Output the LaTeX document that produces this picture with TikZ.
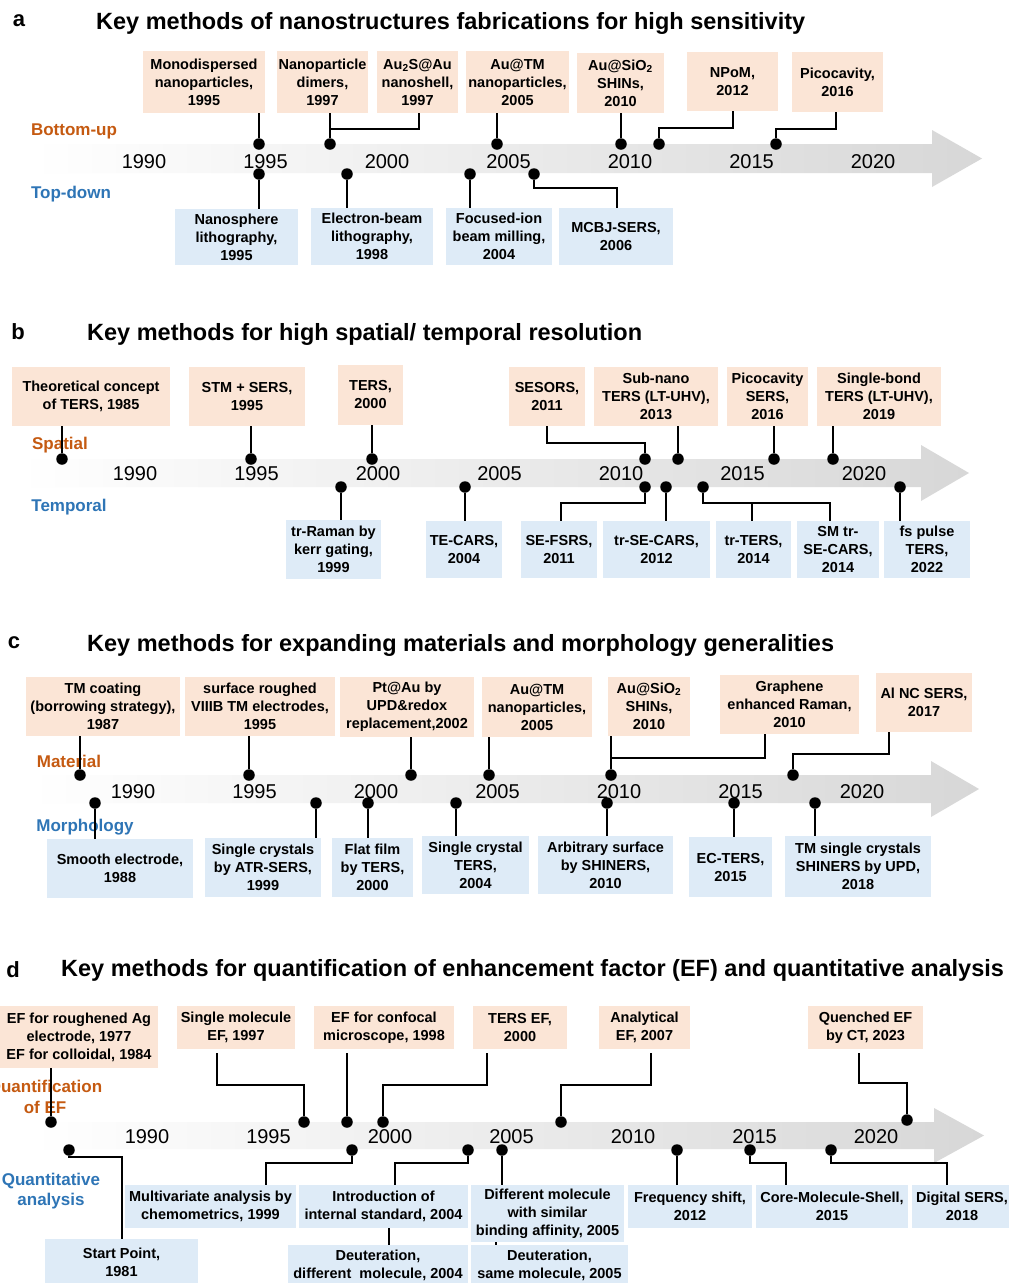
\documentclass[tikz,border=0pt]{standalone}
\usepackage{fontspec}
\setmainfont{Liberation Sans}
\definecolor{boxorange}{RGB}{251,229,214}
\definecolor{boxblue}{RGB}{222,235,247}
\definecolor{txtorange}{RGB}{197,90,17}
\definecolor{txtblue}{RGB}{46,117,182}
\definecolor{bandgray}{RGB}{215,215,215}
\newcommand\boxfont{\fontsize{14.5}{18}\selectfont\bfseries}
\newcommand\sidefont{\fontsize{17}{20.5}\selectfont\bfseries}
\newcommand\titlefont{\fontsize{23.5}{26}\selectfont\bfseries}
\newcommand\panelfont{\fontsize{22}{24}\selectfont\bfseries}
\newcommand\bx[7]{\node[#2,minimum width={#5-#3},minimum height={#6-#4}] (#1) at ({(#3+#5)/2},{(#4+#6)/2}) {#7};}
\newcommand\arrowband[5]{\shade[left color=white,right color=bandgray] ({#1},{#2}) -- ({#4},{#2}) -- ({#4},{#2-14}) -- ({#5},{(#2+#3)/2}) -- ({#4},{#3+14}) -- ({#4},{#3}) -- ({#1},{#3}) -- cycle;}
\newcommand\years[3]{\foreach \i/\yr in {0/1990,1/1995,2/2000,3/2005,4/2010,5/2015,6/2020} {\node[yearlab] (#3\i) at ({#1+\i*121.5},{#2}) {\yr};}}
\begin{document}
\begin{tikzpicture}[x=1pt,y=-1pt,
  obox/.style={fill=boxorange,inner sep=0pt,align=center,font=\boxfont},
  bbx/.style={fill=boxblue,inner sep=0pt,align=center,font=\boxfont},
  conn/.style={line width=2.7pt},
  dotst/.style={circle,fill=black,inner sep=0pt,minimum size=11.5pt},
  yearlab/.style={font=\fontsize{20}{24}\selectfont,inner sep=0pt},
  olab/.style={text=txtorange,font=\sidefont,align=center,inner sep=0pt},
  blab/.style={text=txtblue,font=\sidefont,align=center,inner sep=0pt},
  ttl/.style={anchor=west,font=\titlefont,inner sep=0pt},
  panel/.style={font=\panelfont,inner sep=0pt}]
\useasboundingbox (0,0) rectangle (1009,1283);
\fill[white] (0,0) rectangle (1009,1283);

% ================= panel a =================
\node[panel] (pla) at (19,21) {a};
\node[ttl] (titleA) at (96,23) {Key methods of nanostructures fabrications for high sensitivity};
\arrowband{32}{144}{173}{932}{982}
\years{144}{162}{ya}
\node[olab] (la1) at (74,131) {Bottom-up};
\node[blab] (la2) at (71,194) {Top-down};
\bx{ta1}{obox}{143}{51}{265}{113}{Monodispersed\\nanoparticles,\\1995}
\bx{ta2}{obox}{277}{51}{368}{113}{Nanoparticle\\dimers,\\1997}
\bx{ta3}{obox}{377}{51}{458}{113}{Au\textsubscript{2}S@Au\\nanoshell,\\1997}
\bx{ta4}{obox}{466}{51}{569}{113}{Au@TM\\nanoparticles,\\2005}
\bx{ta5}{obox}{577}{53}{664}{113}{Au@SiO\textsubscript{2}\\SHINs,\\2010}
\bx{ta6}{obox}{687}{52}{778}{111}{NPoM,\\2012}
\bx{ta7}{obox}{792}{52}{883}{112}{Picocavity,\\2016}
\bx{ba1}{bbx}{175}{209}{298}{265}{Nanosphere\\lithography,\\1995}
\bx{ba2}{bbx}{311}{208}{433}{265}{Electron-beam\\lithography,\\1998}
\bx{ba3}{bbx}{446}{208}{552}{265}{Focused-ion\\beam milling,\\2004}
\bx{ba4}{bbx}{559}{208}{673}{265}{MCBJ-SERS,\\2006}
\node[dotst] (pa1) at (259,144) {};
\node[dotst] (pa2) at (330,144) {};
\node[dotst] (pa4) at (497,144) {};
\node[dotst] (pa5) at (621,144) {};
\node[dotst] (pa6) at (659,144) {};
\node[dotst] (pa7) at (776,144) {};
\node[dotst] (qa1) at (259,174) {};
\node[dotst] (qa2) at (347,174) {};
\node[dotst] (qa3) at (470,174) {};
\node[dotst] (qa4) at (534,174) {};
\draw[conn] (ta1.south -| pa1) -- (pa1);
\draw[conn] (ta2.south -| pa2) -- (pa2);
\draw[conn] (419,0 |- ta3.south) -- (419,129) -| (pa2);
\draw[conn] (ta4.south -| pa4) -- (pa4);
\draw[conn] (ta5.south -| pa5) -- (pa5);
\draw[conn] (733,0 |- ta6.south) -- (733,128) -| (pa6);
\draw[conn] (836,0 |- ta7.south) -- (836,129) -| (pa7);
\draw[conn] (qa1) -- (qa1 |- ba1.north);
\draw[conn] (qa2) -- (qa2 |- ba2.north);
\draw[conn] (qa3) -- (qa3 |- ba3.north);
\draw[conn] (qa4) |- (617,188) -- (617,0 |- ba4.north);

% ================= panel b =================
\node[panel] (plb) at (18,332) {b};
\node[ttl] (titleB) at (87,334) {Key methods for high spatial/ temporal resolution};
\arrowband{19}{459}{487}{921}{969}
\years{135}{474}{yb}
\node[olab] (lb1) at (60,445) {Spatial};
\node[blab] (lb2) at (69,507) {Temporal};
\bx{tb1}{obox}{12}{367}{170}{426}{Theoretical concept\\of TERS, 1985}
\bx{tb2}{obox}{189}{367}{305}{426}{STM + SERS,\\1995}
\bx{tb3}{obox}{338}{365}{403}{425}{TERS,\\2000}
\bx{tb4}{obox}{509}{367}{585}{426}{SESORS,\\2011}
\bx{tb5}{obox}{594}{367}{718}{426}{Sub-nano\\TERS (LT-UHV),\\2013}
\bx{tb6}{obox}{727}{367}{808}{426}{Picocavity\\SERS,\\2016}
\bx{tb7}{obox}{817}{367}{941}{426}{Single-bond\\TERS (LT-UHV),\\2019}
\bx{bb1}{bbx}{286}{520}{381}{579}{tr-Raman by\\kerr gating,\\1999}
\bx{bb2}{bbx}{426}{521}{502}{578}{TE-CARS,\\2004}
\bx{bb3}{bbx}{521}{521}{597}{578}{SE-FSRS,\\2011}
\bx{bb4}{bbx}{603}{521}{710}{578}{tr-SE-CARS,\\2012}
\bx{bb5}{bbx}{716}{521}{791}{578}{tr-TERS,\\2014}
\bx{bb6}{bbx}{797}{521}{879}{578}{SM tr-\\SE-CARS,\\2014}
\bx{bb7}{bbx}{884}{521}{970}{578}{fs pulse\\TERS,\\2022}
\node[dotst] (pb1) at (62,459) {};
\node[dotst] (pb2) at (251,459) {};
\node[dotst] (pb3) at (372,459) {};
\node[dotst] (pb4) at (645,459) {};
\node[dotst] (pb5) at (678,459) {};
\node[dotst] (pb6) at (774,459) {};
\node[dotst] (pb7) at (833,459) {};
\node[dotst] (qb1) at (341,487) {};
\node[dotst] (qb2) at (465,487) {};
\node[dotst] (qb3) at (645,487) {};
\node[dotst] (qb4) at (666,487) {};
\node[dotst] (qb5) at (703,487) {};
\node[dotst] (qb6) at (900,487) {};
\draw[conn] (tb1.south -| pb1) -- (pb1);
\draw[conn] (tb2.south -| pb2) -- (pb2);
\draw[conn] (tb3.south -| pb3) -- (pb3);
\draw[conn] (547,0 |- tb4.south) -- (547,443) -| (pb4);
\draw[conn] (tb5.south -| pb5) -- (pb5);
\draw[conn] (tb6.south -| pb6) -- (pb6);
\draw[conn] (tb7.south -| pb7) -- (pb7);
\draw[conn] (qb1) -- (qb1 |- bb1.north);
\draw[conn] (qb2) -- (qb2 |- bb2.north);
\draw[conn] (qb3) |- (561,503) -- (561,0 |- bb3.north);
\draw[conn] (qb4) -- (qb4 |- bb4.north);
\draw[conn] (qb5) |- (830,503) -- (830,0 |- bb6.north);
\draw[conn] (752,503) -- (752,0 |- bb5.north);
\draw[conn] (qb6) -- (qb6 |- bb7.north);

% ================= panel c =================
\node[panel] (plc) at (14,643) {c};
\node[ttl] (titleC) at (87,645) {Key methods for expanding materials and morphology generalities};
\arrowband{30}{775}{803}{931}{979}
\years{133}{792}{yc}
\node[olab] (lc1) at (69,761) {Material};
\node[blab] (lc2) at (85,827) {Morphology};
\bx{tc1}{obox}{26}{677}{180}{736}{TM coating\\(borrowing strategy),\\1987}
\bx{tc2}{obox}{185}{677}{335}{736}{surface roughed\\VIIIB TM electrodes,\\1995}
\bx{tc3}{obox}{340}{677}{474}{737}{Pt@Au by\\UPD\&redox\\replacement,2002}
\bx{tc4}{obox}{482}{677}{592}{737}{Au@TM\\nanoparticles,\\2005}
\bx{tc5}{obox}{608}{677}{690}{736}{Au@SiO\textsubscript{2}\\SHINs,\\2010}
\bx{tc6}{obox}{720}{675}{859}{734}{Graphene\\enhanced Raman,\\2010}
\bx{tc7}{obox}{876}{673}{972}{732}{Al NC SERS,\\2017}
\bx{bc1}{bbx}{47}{839}{193}{898}{Smooth electrode,\\1988}
\bx{bc2}{bbx}{205}{838}{321}{897}{Single crystals\\by ATR-SERS,\\1999}
\bx{bc3}{bbx}{332}{838}{413}{897}{Flat film\\by TERS,\\2000}
\bx{bc4}{bbx}{422}{836}{529}{894}{Single crystal\\TERS,\\2004}
\bx{bc5}{bbx}{538}{836}{673}{894}{Arbitrary surface\\by SHINERS,\\2010}
\bx{bc6}{bbx}{689}{837}{772}{897}{EC-TERS,\\2015}
\bx{bc7}{bbx}{785}{836}{931}{897}{TM single crystals\\SHINERS by UPD,\\2018}
\node[dotst] (pc1) at (80,775) {};
\node[dotst] (pc2) at (249,775) {};
\node[dotst] (pc3) at (411,775) {};
\node[dotst] (pc4) at (489,775) {};
\node[dotst] (pc5) at (611,775) {};
\node[dotst] (pc6) at (793,775) {};
\node[dotst] (qc1) at (95,803) {};
\node[dotst] (qc2) at (316,803) {};
\node[dotst] (qc3) at (368,803) {};
\node[dotst] (qc4) at (456,803) {};
\node[dotst] (qc5) at (607,803) {};
\node[dotst] (qc6) at (734,803) {};
\node[dotst] (qc7) at (815,803) {};
\draw[conn] (tc1.south -| pc1) -- (pc1);
\draw[conn] (tc2.south -| pc2) -- (pc2);
\draw[conn] (tc3.south -| pc3) -- (pc3);
\draw[conn] (tc4.south -| pc4) -- (pc4);
\draw[conn] (tc5.south -| pc5) -- (pc5);
\draw[conn] (765,0 |- tc6.south) -- (765,758) -- (pc5 |- 0,758);
\draw[conn] (889,0 |- tc7.south) -- (889,754) -| (pc6);
\draw[conn] (qc1) -- (qc1 |- bc1.north);
\draw[conn] (qc2) -- (qc2 |- bc2.north);
\draw[conn] (qc3) -- (qc3 |- bc3.north);
\draw[conn] (qc4) -- (qc4 |- bc4.north);
\draw[conn] (qc5) -- (qc5 |- bc5.north);
\draw[conn] (qc6) -- (qc6 |- bc6.north);
\draw[conn] (qc7) -- (qc7 |- bc7.north);

% ================= panel d =================
\node[panel] (pld) at (13,970) {d};
\node[ttl] (titleD) at (61,970) {Key methods for quantification of enhancement factor (EF) and quantitative analysis};
\arrowband{32}{1122}{1149}{934}{984}
\years{147}{1137}{yd}
\node[olab] (ld1) at (45,1097) {Quantification\\of EF};
\node[blab] (ld2) at (51,1191) {Quantitative\\analysis};
\bx{td1}{obox}{0}{1006}{158}{1068}{EF for roughened Ag\\electrode, 1977\\EF for colloidal, 1984}
\bx{td2}{obox}{177}{1006}{295}{1049}{Single molecule\\EF, 1997}
\bx{td3}{obox}{314}{1006}{454}{1049}{EF for confocal\\microscope, 1998}
\bx{td4}{obox}{473}{1006}{567}{1049}{TERS EF,\\2000}
\bx{td5}{obox}{599}{1006}{690}{1049}{Analytical\\EF, 2007}
\bx{td6}{obox}{808}{1006}{923}{1049}{Quenched EF\\by CT, 2023}
\bx{bd1}{bbx}{45}{1239}{198}{1285}{Start Point,\\1981}
\bx{bd2}{bbx}{125}{1185}{296}{1228}{Multivariate analysis by\\chemometrics, 1999}
\bx{bd3}{bbx}{299}{1185}{468}{1228}{Introduction of\\internal standard, 2004}
\bx{bd4}{bbx}{471}{1185}{624}{1242}{Different molecule\\with similar\\binding affinity, 2005}
\bx{bd5}{bbx}{628}{1185}{752}{1228}{Frequency shift,\\2012}
\bx{bd6}{bbx}{756}{1185}{908}{1228}{Core-Molecule-Shell,\\2015}
\bx{bd7}{bbx}{912}{1185}{1012}{1228}{Digital SERS,\\2018}
\bx{bd8}{bbx}{288}{1245}{468}{1285}{Deuteration,\\different\ \ molecule, 2004}
\bx{bd9}{bbx}{471}{1245}{628}{1285}{Deuteration,\\same molecule, 2005}
\node[dotst] (pd1) at (51,1122) {};
\node[dotst] (pd2) at (304,1122) {};
\node[dotst] (pd3) at (347,1122) {};
\node[dotst] (pd4) at (383,1122) {};
\node[dotst] (pd5) at (561,1122) {};
\node[dotst] (pd6) at (907,1120) {};
\node[dotst] (qd1) at (69,1150) {};
\node[dotst] (qd2) at (352,1150) {};
\node[dotst] (qd3) at (468,1150) {};
\node[dotst] (qd4) at (502,1150) {};
\node[dotst] (qd5) at (677,1150) {};
\node[dotst] (qd6) at (750,1150) {};
\node[dotst] (qd7) at (831,1150) {};
\draw[conn] (td1.south -| pd1) -- (pd1);
\draw[conn,shorten <=4pt] (217,0 |- td2.south) -- (217,1085) -| (pd2);
\draw[conn,shorten <=4pt] (td3.south -| pd3) -- (pd3);
\draw[conn,shorten <=4pt] (487,0 |- td4.south) -- (487,1085) -| (pd4);
\draw[conn,shorten <=4pt] (651,0 |- td5.south) -- (651,1085) -| (pd5);
\draw[conn,shorten <=4pt] (859,0 |- td6.south) -- (859,1083) -| (pd6);
\draw[conn] (qd1) |- (122,1157) -- (122,0 |- bd1.north);
\draw[conn] (qd2) |- (266,1163) -- (266,0 |- bd2.north);
\draw[conn] (qd3) |- (395,1163) -- (395,0 |- bd3.north);
\draw[conn] (389,0 |- bd3.south) -- (389,0 |- bd8.north);
\draw[conn] (qd4) -- (qd4 |- bd4.north);
\draw[conn] (496,0 |- bd4.south) -- (496,0 |- bd9.north);
\draw[conn] (qd5) -- (qd5 |- bd5.north);
\draw[conn] (qd6) |- (786,1163) -- (786,0 |- bd6.north);
\draw[conn] (qd7) |- (947,1163) -- (947,0 |- bd7.north);
\end{tikzpicture}
\end{document}
